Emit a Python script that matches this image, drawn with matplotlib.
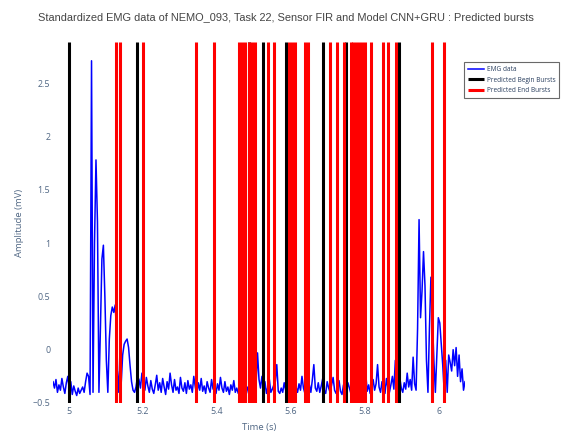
import numpy as np
import matplotlib
matplotlib.use("Agg")
import matplotlib.pyplot as plt
from matplotlib.ticker import FuncFormatter, FixedLocator

# Recording window (s) and standardized EMG amplitude (mV), 4 ms steps
t_start = 4.958
t_step = 0.004
emg = [
    -0.30, -0.36, -0.28, -0.40, -0.33, -0.38, -0.27, -0.35, -0.41, -0.31,
    -0.25, -0.38, -0.30, -0.42, -0.34, -0.39, -0.43, -0.36, -0.41, -0.38,
    -0.35, -0.40, -0.30, -0.22, -0.25, -0.42, 2.71, -0.40, 1.00, 1.78,
    1.20, -0.40, 0.20, 0.85, 0.98, 0.50, -0.10, -0.40, 0.10, 0.32,
    0.40, 0.35, 0.42, 0.10, -0.40, -0.20, -0.32, -0.05, 0.05, 0.08,
    0.10, 0.02, -0.15, -0.30, -0.38, -0.40, -0.35, -0.25, -0.28, -0.36,
    -0.22, -0.30, -0.38, -0.26, -0.34, -0.40, -0.29, -0.37, -0.41, -0.33,
    -0.24, -0.38, -0.31, -0.40, -0.27, -0.35, -0.42, -0.30, -0.37, -0.22,
    -0.33, -0.40, -0.28, -0.38, -0.35, -0.41, -0.26, -0.36, -0.39, -0.31,
    -0.41, -0.29, -0.37, -0.33, -0.40, -0.25, -0.35, -0.42, -0.31, -0.38,
    -0.27, -0.39, -0.34, -0.41, -0.30, -0.36, -0.40, -0.28, -0.37, -0.33,
    -0.41, -0.32, -0.38, -0.26, -0.36, -0.40, -0.30, -0.39, -0.35, -0.42,
    -0.33, -0.38, -0.29, -0.40, -0.36, -0.41, -0.37, -0.34, -0.40, -0.38,
    -0.39, -0.35, -0.41, -0.38, -0.36, -0.30, -0.22, -0.32, -0.03, -0.28,
    -0.36, -0.25, -0.38, -0.30, -0.41, -0.35, -0.28, -0.40, -0.37, -0.33,
    -0.30, -0.14, -0.39, -0.41, -0.36, -0.40, -0.31, -0.38, -0.42, -0.34,
    -0.30, -0.37, -0.41, -0.27, -0.35, -0.40, -0.32, -0.38, -0.25, -0.36,
    -0.41, -0.29, -0.37, -0.33, -0.40, -0.28, -0.14, -0.36, -0.39, -0.31,
    -0.40, -0.34, -0.27, -0.38, -0.41, -0.30, -0.36, -0.40, -0.33, -0.26,
    -0.38, -0.41, -0.35, -0.29, -0.39, -0.42, -0.33, -0.37, -0.40, -0.31,
    -0.36, -0.41, -0.28, -0.38, -0.34, -0.40, -0.25, -0.37, -0.41, -0.30,
    -0.36, -0.22, -0.39, -0.33, -0.41, -0.37, -0.28, -0.38, -0.32, -0.14,
    -0.35, -0.40, -0.30, -0.38, -0.41, -0.27, -0.36, -0.40, -0.33, -0.25,
    -0.37, -0.10, -0.30, -0.38, -0.26, -0.36, -0.40, -0.31, -0.37, -0.22,
    -0.35, -0.28, -0.38, -0.07, -0.32, -0.38, 0.20, 1.22, 0.30, 0.55,
    0.92, 0.60, -0.10, -0.40, 0.20, 0.68, 0.30, -0.10, -0.40, -0.05,
    0.30, 0.25, 0.05, -0.15, -0.40, -0.10, -0.40, -0.05, -0.12, -0.20,
    0.00, -0.15, 0.02, -0.25, -0.05, -0.30, -0.18, -0.38, -0.30,
]
time = t_start + t_step * np.arange(len(emg))

# Predicted burst onsets (s)
begin_bursts = [5.000, 5.184, 5.487, 5.525, 5.586, 5.687, 5.748, 5.891]

# Predicted burst offsets (s)
end_bursts = [
    5.128, 5.139, 5.201, 5.344, 5.392,
    5.461, 5.469, 5.477, 5.486, 5.494, 5.502,
    5.538, 5.555,
    5.594, 5.602, 5.610,
    5.637, 5.645,
    5.706, 5.725, 5.743,
    5.761, 5.769, 5.777, 5.785, 5.793, 5.801,
    5.816, 5.850, 5.863, 5.884,
    5.982, 6.014,
]

x_ticks = [5.0, 5.2, 5.4, 5.6, 5.8, 6.0]
y_ticks = [-0.5, 0.0, 0.5, 1.0, 1.5, 2.0, 2.5]

tick_color = "#506784"
text_color = "#444444"

fig = plt.figure(figsize=(5.73, 4.34), dpi=100)
ax = fig.add_axes([53 / 573, 31 / 434, 412 / 573, 361 / 434])

ax.plot(time, emg, color="blue", linewidth=1.1, label="EMG data", zorder=2)
xt = ax.get_xaxis_transform()
ax.vlines(begin_bursts, 0, 1, transform=xt, colors="black", linewidth=2.2,
          label="Predicted Begin Bursts", zorder=3)
ax.vlines(end_bursts, 0, 1, transform=xt, colors="red", linewidth=2.2,
          label="Predicted End Bursts", zorder=4)

ax.set_xlim(4.958, 6.070)
ax.set_ylim(-0.5, 2.886)

for side in ax.spines.values():
    side.set_visible(False)

ax.xaxis.set_major_locator(FixedLocator(x_ticks))
ax.yaxis.set_major_locator(FixedLocator(y_ticks))
fmt = FuncFormatter(lambda v, _: f"{v:g}".replace("-", "\u2212"))
ax.xaxis.set_major_formatter(fmt)
ax.yaxis.set_major_formatter(fmt)
ax.tick_params(axis="both", length=0, labelsize=6.4, labelcolor=tick_color)
ax.tick_params(axis="x", pad=3)
ax.tick_params(axis="y", pad=2)
for lab in ax.get_xticklabels() + ax.get_yticklabels():
    lab.set_fontfamily("Open Sans")

ax.set_xlabel("Time (s)", fontsize=6.8, color=tick_color, family="Open Sans",
              labelpad=5)
ax.set_ylabel("Amplitude (mV)", fontsize=6.8, color=tick_color,
              family="Open Sans", labelpad=6)

fig.text(286 / 573, 1 - 17 / 434,
         "Standardized EMG data of NEMO_093, Task 22, Sensor FIR and Model CNN+GRU : Predicted bursts",
         ha="center", va="center", fontsize=7.9, color=text_color,
         family="Liberation Sans")

leg = fig.legend(loc="upper left", bbox_to_anchor=(464 / 573, 1 - 62 / 434),
                 frameon=True, fancybox=False,
                 prop={"family": "Open Sans", "size": 4.7},
                 handlelength=2.4, handletextpad=0.5, borderpad=0.6,
                 labelspacing=0.55, borderaxespad=0)
leg.get_frame().set_edgecolor("#444444")
leg.get_frame().set_linewidth(0.8)
for txt in leg.get_texts():
    txt.set_color("#2a3f5f")

fig.savefig("out.png", dpi=100)
